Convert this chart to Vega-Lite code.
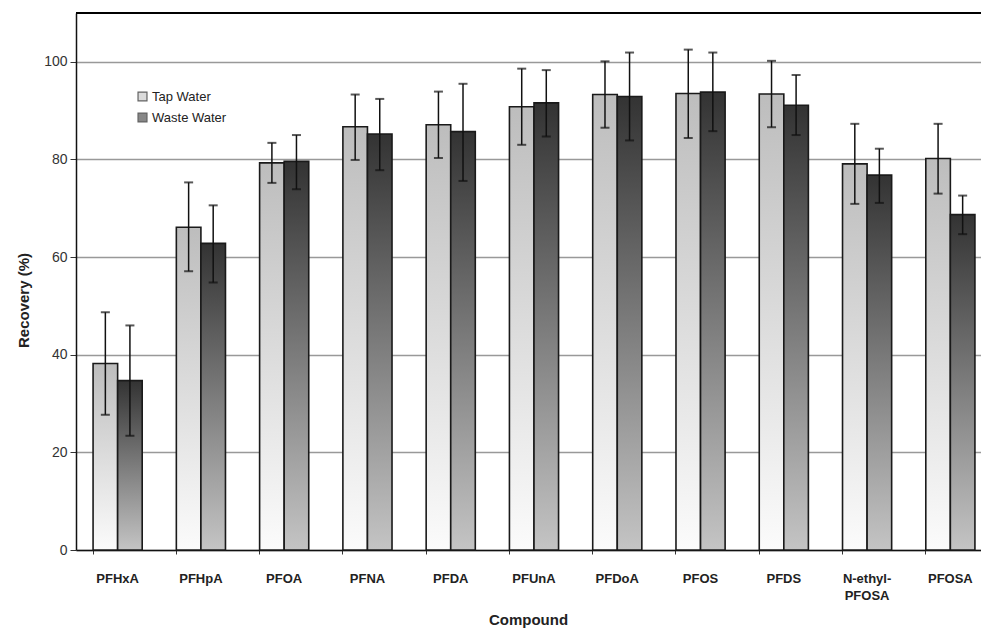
{
  "$schema": "https://vega.github.io/schema/vega-lite/v6.json",
  "width": 916,
  "height": 537,
  "autosize": {"type": "none"},
  "padding": {"left": 76, "top": 13, "right": 0, "bottom": 79},
  "background": "white",
  "config": {
    "view": {"stroke": null},
    "font": "Liberation Sans"
  },
  "datasets": {
    "rec": [
      {"compound": "PFHxA", "series": "Tap Water", "value": 38.2, "lo": 27.7, "hi": 48.7},
      {"compound": "PFHxA", "series": "Waste Water", "value": 34.7, "lo": 23.4, "hi": 46.0},
      {"compound": "PFHpA", "series": "Tap Water", "value": 66.1, "lo": 57.1, "hi": 75.3},
      {"compound": "PFHpA", "series": "Waste Water", "value": 62.8, "lo": 54.8, "hi": 70.6},
      {"compound": "PFOA", "series": "Tap Water", "value": 79.3, "lo": 75.2, "hi": 83.4},
      {"compound": "PFOA", "series": "Waste Water", "value": 79.6, "lo": 73.9, "hi": 85.0},
      {"compound": "PFNA", "series": "Tap Water", "value": 86.7, "lo": 79.9, "hi": 93.3},
      {"compound": "PFNA", "series": "Waste Water", "value": 85.2, "lo": 77.8, "hi": 92.4},
      {"compound": "PFDA", "series": "Tap Water", "value": 87.1, "lo": 80.3, "hi": 93.9},
      {"compound": "PFDA", "series": "Waste Water", "value": 85.7, "lo": 75.6, "hi": 95.5},
      {"compound": "PFUnA", "series": "Tap Water", "value": 90.8, "lo": 83.0, "hi": 98.6},
      {"compound": "PFUnA", "series": "Waste Water", "value": 91.6, "lo": 84.7, "hi": 98.3},
      {"compound": "PFDoA", "series": "Tap Water", "value": 93.3, "lo": 86.5, "hi": 100.1},
      {"compound": "PFDoA", "series": "Waste Water", "value": 92.9, "lo": 83.9, "hi": 101.9},
      {"compound": "PFOS", "series": "Tap Water", "value": 93.5, "lo": 84.4, "hi": 102.5},
      {"compound": "PFOS", "series": "Waste Water", "value": 93.8, "lo": 85.8, "hi": 101.9},
      {"compound": "PFDS", "series": "Tap Water", "value": 93.4, "lo": 86.6, "hi": 100.2},
      {"compound": "PFDS", "series": "Waste Water", "value": 91.1, "lo": 85.0, "hi": 97.3},
      {"compound": "N-ethyl-PFOSA", "series": "Tap Water", "value": 79.1, "lo": 70.9, "hi": 87.3},
      {"compound": "N-ethyl-PFOSA", "series": "Waste Water", "value": 76.8, "lo": 71.1, "hi": 82.2},
      {"compound": "PFOSA", "series": "Tap Water", "value": 80.2, "lo": 73.0, "hi": 87.3},
      {"compound": "PFOSA", "series": "Waste Water", "value": 68.7, "lo": 64.7, "hi": 72.6}
    ]
  },
  "data": {"name": "rec"},
  "layer": [
    {
      "mark": {"type": "point", "shape": "square", "filled": true, "size": 4},
      "encoding": {
        "x": {
          "field": "compound",
          "type": "nominal",
          "sort": null,
          "scale": {"paddingInner": 0.41, "paddingOuter": 0.205},
          "axis": {
            "title": "Compound",
            "titleFont": "Liberation Sans",
            "titleFontSize": 15,
            "titleFontWeight": "bold",
            "titleColor": "#222",
            "titlePadding": 10,
            "titleX": 452,
            "labelAngle": 0,
            "labelFont": "Liberation Sans",
            "labelFontSize": 13,
            "labelFontWeight": "bold",
            "labelColor": "#222",
            "labelPadding": 18,
            "labelLineHeight": 17,
            "labelExpr": "datum.label == 'N-ethyl-PFOSA' ? ['N-ethyl-', 'PFOSA'] : datum.label",
            "bandPosition": 0,
            "tickSize": 4,
            "tickColor": "#333",
            "domainColor": "#111",
            "domainWidth": 1.5,
            "grid": false
          }
        },
        "xOffset": {"field": "series", "type": "nominal", "scale": {"paddingInner": 0, "paddingOuter": 0}},
        "y": {
          "datum": 10,
          "type": "quantitative",
          "scale": {"domain": [0, 110], "nice": false},
          "axis": {
            "title": "Recovery (%)",
            "titleFont": "Liberation Sans",
            "titleFontSize": 15,
            "titleFontWeight": "bold",
            "titleColor": "#222",
            "titleY": 287,
            "titlePadding": 12,
            "values": [0, 20, 40, 60, 80, 100],
            "labelFont": "Liberation Sans",
            "labelFontSize": 14,
            "labelColor": "#333",
            "labelPadding": 3,
            "tickSize": 6,
            "tickColor": "#333",
            "domainColor": "#111",
            "domainWidth": 1.5,
            "grid": true,
            "gridColor": "#999",
            "gridWidth": 1.3
          }
        },
        "fill": {
          "field": "series",
          "type": "nominal",
          "scale": {"domain": ["Tap Water", "Waste Water"], "range": ["#cccccc", "#555555"]},
          "legend": {
            "title": null,
            "orient": "none",
            "legendX": 60,
            "legendY": 77,
            "symbolType": "square",
            "symbolSize": 80,
            "symbolStrokeColor": "#222",
            "symbolStrokeWidth": 1.2,
            "labelFont": "Liberation Sans",
            "labelFontSize": 13,
            "labelColor": "#222",
            "rowPadding": 6,
            "labelOffset": 3
          }
        }
      }
    },
    {
      "transform": [{"filter": "datum.series == 'Tap Water'"}],
      "mark": {
        "type": "bar",
        "stroke": "#1a1a1a",
        "strokeWidth": 1.6,
        "fill": {"gradient": "linear", "x1": 0, "y1": 0, "x2": 0, "y2": 1, "stops": [{"offset": 0, "color": "#bdbdbd"}, {"offset": 1, "color": "#fbfbfb"}]}
      },
      "encoding": {
        "x": {"field": "compound", "type": "nominal", "sort": null},
        "xOffset": {"field": "series", "type": "nominal"},
        "y": {"field": "value", "type": "quantitative"}
      }
    },
    {
      "transform": [{"filter": "datum.series == 'Waste Water'"}],
      "mark": {
        "type": "bar",
        "stroke": "#1a1a1a",
        "strokeWidth": 1.6,
        "fill": {"gradient": "linear", "x1": 0, "y1": 0, "x2": 0, "y2": 1, "stops": [{"offset": 0, "color": "#333333"}, {"offset": 1, "color": "#c4c4c4"}]}
      },
      "encoding": {
        "x": {"field": "compound", "type": "nominal", "sort": null},
        "xOffset": {"field": "series", "type": "nominal"},
        "y": {"field": "value", "type": "quantitative"}
      }
    },
    {
      "mark": {"type": "rule", "color": "#111", "strokeWidth": 1.5},
      "encoding": {
        "x": {"field": "compound", "type": "nominal", "sort": null},
        "xOffset": {"field": "series", "type": "nominal"},
        "y": {"field": "lo", "type": "quantitative"},
        "y2": {"field": "hi"}
      }
    },
    {
      "mark": {"type": "tick", "color": "#111", "size": 9, "thickness": 2},
      "encoding": {
        "x": {"field": "compound", "type": "nominal", "sort": null},
        "xOffset": {"field": "series", "type": "nominal"},
        "y": {"field": "lo", "type": "quantitative"}
      }
    },
    {
      "mark": {"type": "tick", "color": "#111", "size": 9, "thickness": 2},
      "encoding": {
        "x": {"field": "compound", "type": "nominal", "sort": null},
        "xOffset": {"field": "series", "type": "nominal"},
        "y": {"field": "hi", "type": "quantitative"}
      }
    },
    {
      "mark": {"type": "rule", "color": "#000", "strokeWidth": 2},
      "encoding": {"y": {"datum": 110, "type": "quantitative"}}
    }
  ]
}
